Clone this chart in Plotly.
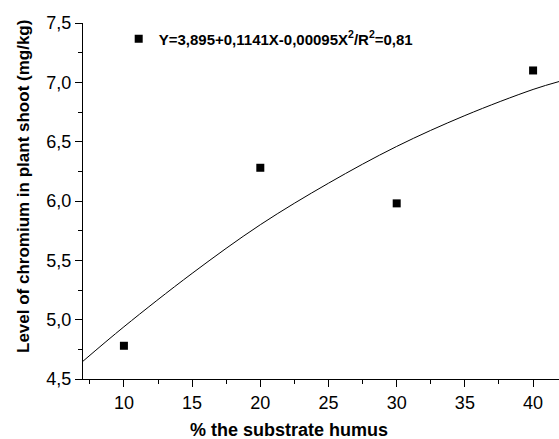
import plotly.graph_objects as go

# Measured data points
humus_pct = [10, 20, 30, 40]
chromium = [4.78, 6.28, 5.98, 7.10]

# Fitted curve
fit_x = [7, 10, 15, 20, 25, 30, 35, 40, 42]
fit_y = [4.65, 4.94, 5.39, 5.80, 6.15, 6.46, 6.72, 6.94, 7.01]

legend_label = "<b>Y=3,895+0,1141X-0,00095X<sup>2</sup>/R<sup>2</sup>=0,81</b>"
x_title = "% the substrate humus"
y_title = "Level of chromium in plant shoot (mg/kg)"

FONT = "Liberation Sans, Arial, sans-serif"

fig = go.Figure()
fig.add_trace(go.Scatter(
    x=humus_pct, y=chromium, mode="markers", name=legend_label,
    marker=dict(symbol="square", size=8, color="black"),
    cliponaxis=False,
))
fig.add_trace(go.Scatter(
    x=fit_x, y=fit_y, mode="lines", showlegend=False,
    line=dict(color="black", width=1, shape="spline"),
))

fig.update_layout(
    width=559, height=439,
    margin=dict(l=83, r=0, t=23, b=60),
    paper_bgcolor="white", plot_bgcolor="white",
    separators=",.",
    font=dict(family=FONT, color="black"),
    showlegend=True,
    legend=dict(x=0.075, y=0.955, xanchor="left", yanchor="middle",
                bgcolor="rgba(0,0,0,0)", font=dict(size=15, family=FONT),
                itemwidth=30),
    xaxis=dict(
        range=[7, 41.9], showline=True, linecolor="black", linewidth=1,
        showgrid=False, zeroline=False,
        tickmode="linear", tick0=10, dtick=5,
        ticks="outside", ticklen=7, tickcolor="black",
        tickfont=dict(size=18, family=FONT),
        minor=dict(tick0=7.5, dtick=2.5, ticks="outside", ticklen=4, tickcolor="black", showgrid=False),
    ),
    yaxis=dict(
        range=[4.5, 7.5], showline=True, linecolor="black", linewidth=1,
        showgrid=False, zeroline=False,
        tickmode="linear", tick0=4.5, dtick=0.5, tickformat=".1f",
        ticks="outside", ticklen=7, tickcolor="black",
        tickfont=dict(size=18, family=FONT),
        minor=dict(dtick=0.25, ticks="outside", ticklen=4, tickcolor="black", showgrid=False),
    ),
    annotations=[
        dict(text="<b>" + x_title + "</b>", xref="paper", yref="paper",
             x=(289 - 83) / 476, y=-(430 - 379) / 356, xanchor="center", yanchor="middle",
             showarrow=False, font=dict(size=18, family=FONT)),
        dict(text="<b>" + y_title + "</b>", xref="paper", yref="paper",
             x=-(83 - 23) / 476, y=(379 - 187) / 356, xanchor="center", yanchor="middle",
             textangle=-90, showarrow=False, font=dict(size=17, family=FONT)),
    ],
)

fig.write_html("out.html", config={"displayModeBar": False},
               post_script="document.body.style.margin='0';")
